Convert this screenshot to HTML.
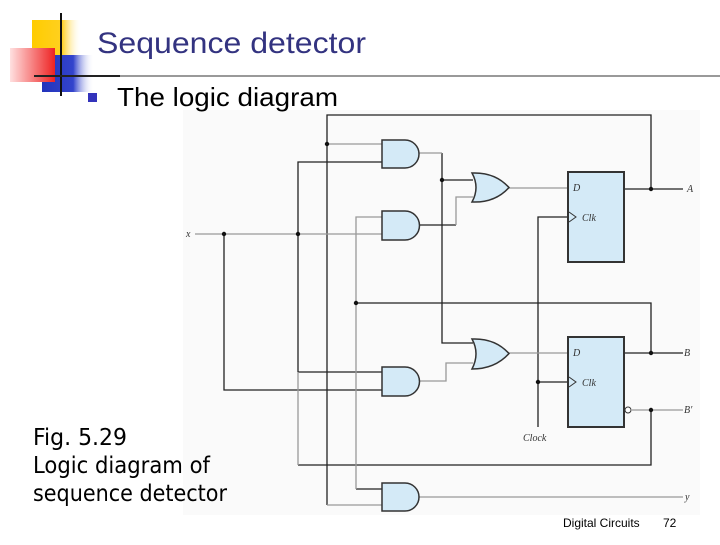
<!DOCTYPE html>
<html><head><meta charset="utf-8"><style>
body{margin:0;width:720px;height:540px;overflow:hidden;background:#fff;font-family:"Liberation Sans",sans-serif}
</style></head><body>
<svg width="720" height="540" viewBox="0 0 720 540" xmlns="http://www.w3.org/2000/svg">
<defs>
<linearGradient id="yl" x1="0" x2="1"><stop offset="0" stop-color="#ffcc00"/><stop offset="0.6" stop-color="#ffd020"/><stop offset="1" stop-color="#fff" stop-opacity="0"/></linearGradient>
<linearGradient id="rd" x1="0" x2="1"><stop offset="0" stop-color="#ffe0e0"/><stop offset="1" stop-color="#ee2222"/></linearGradient>
<linearGradient id="bl" x1="0" x2="1"><stop offset="0" stop-color="#2233bb"/><stop offset="0.6" stop-color="#3344cc"/><stop offset="1" stop-color="#fff" stop-opacity="0"/></linearGradient>
</defs>
<rect x="183" y="110" width="517" height="405" fill="#fafafa"/>
<rect x="32" y="20" width="50" height="40" fill="url(#yl)"/>
<rect x="42" y="55" width="52" height="37" fill="url(#bl)"/>
<rect x="10" y="48" width="45" height="34" fill="url(#rd)"/>
<line x1="61" y1="13" x2="61" y2="96" stroke="#111" stroke-width="2"/>
<line x1="34" y1="76" x2="720" y2="76" stroke="#999" stroke-width="2"/>
<line x1="34" y1="76" x2="120" y2="76" stroke="#222" stroke-width="2"/>
<text x="97" y="53" font-size="30" fill="#333380" textLength="269" lengthAdjust="spacingAndGlyphs">Sequence detector</text>
<rect x="88" y="93" width="9" height="9" fill="#3333bb"/>
<text x="117" y="106" font-size="26" fill="#000" textLength="221" lengthAdjust="spacingAndGlyphs">The logic diagram</text>
<g font-size="23" fill="#000" font-family="DejaVu Sans,sans-serif">
<text x="33" y="445" textLength="94" lengthAdjust="spacingAndGlyphs">Fig. 5.29</text>
<text x="33" y="473" textLength="177" lengthAdjust="spacingAndGlyphs">Logic diagram of</text>
<text x="33" y="501" textLength="194" lengthAdjust="spacingAndGlyphs">sequence detector</text>
</g>
<g fill="none" stroke-width="1.3">
<g stroke="#222">
<polyline points="327,505 327,115 651,115 651,189"/>
<polyline points="298,372 298,162 382,162"/>
<polyline points="224,234 224,390 382,390"/>
<polyline points="356,303 651,303 651,353"/>
<polyline points="298,465 651,465 651,410"/>
<polyline points="442,180 473,180"/>
<polyline points="442,153 442,343 473,343"/>
<polyline points="419,225 456,225"/>
<polyline points="356,489 382,489"/>
<polyline points="624,189 683,189"/>
<polyline points="624,353 683,353"/>
<polyline points="538,427 538,217 568,217"/>
<polyline points="538,382 568,382"/>
<polyline points="298,372 382,372"/>
</g>
<g stroke="#999">
<polyline points="327,144 382,144"/>
<polyline points="195,234 382,234"/>
<polyline points="382,217 356,217 356,489"/>
<polyline points="298,372 298,465"/>
<polyline points="327,505 382,505"/>
<polyline points="419,153 442,153"/>
<polyline points="456,225 456,197 473,197"/>
<polyline points="419,381 446,381 446,363 473,363"/>
<polyline points="509,188 568,188"/>
<polyline points="509,353 568,353"/>
<polyline points="632,410 683,410"/>
<polyline points="419,497 683,497"/>
</g>
</g>
<g fill="#d4eaf7" stroke="#333" stroke-width="1.5">
<path d="M382,140 H405 A14,14 0 0 1 405,168 H382 Z"/>
<path d="M382,211 H405 A14.5,14.5 0 0 1 405,240 H382 Z"/>
<path d="M382,367 H405 A14.5,14.5 0 0 1 405,396 H382 Z"/>
<path d="M382,483 H405 A14,14 0 0 1 405,511 H382 Z"/>
<path d="M472,173 Q495,172 509,187.5 Q495,203 472,202 Q480,187.5 472,173 Z"/>
<path d="M472,339 Q495,338 509,353.5 Q495,369 472,369 Q480,353.5 472,339 Z"/>
<rect x="568" y="172" width="56" height="90" stroke-width="2"/>
<rect x="568" y="337" width="56" height="90" stroke-width="2"/>
</g>
<circle cx="628" cy="410" r="3" fill="#fff" stroke="#333"/>
<g fill="none" stroke="#333" stroke-width="1"><polyline points="569,212 576,217 569,222"/><polyline points="569,377 576,382 569,387"/></g>
<g fill="#111">
<circle cx="327" cy="144" r="2.2"/><circle cx="224" cy="234" r="2.2"/><circle cx="298" cy="234" r="2.2"/>
<circle cx="442" cy="180" r="2.2"/><circle cx="356" cy="303" r="2.2"/><circle cx="651" cy="189" r="2.2"/>
<circle cx="651" cy="353" r="2.2"/><circle cx="651" cy="410" r="2.2"/><circle cx="538" cy="382" r="2.2"/>
</g>
<g font-family="Liberation Serif,serif" font-style="italic" font-size="10" fill="#333">
<text x="186" y="237">x</text>
<text x="573" y="191">D</text><text x="582" y="221">Clk</text>
<text x="573" y="356">D</text><text x="582" y="386">Clk</text>
<text x="687" y="192">A</text><text x="684" y="356">B</text><text x="684" y="413">B′</text>
<text x="685" y="500">y</text><text x="523" y="441">Clock</text>
</g>
<text x="563" y="527" font-size="12" fill="#000">Digital Circuits</text>
<text x="663" y="527" font-size="12" fill="#000">72</text>
</svg>
</body></html>
